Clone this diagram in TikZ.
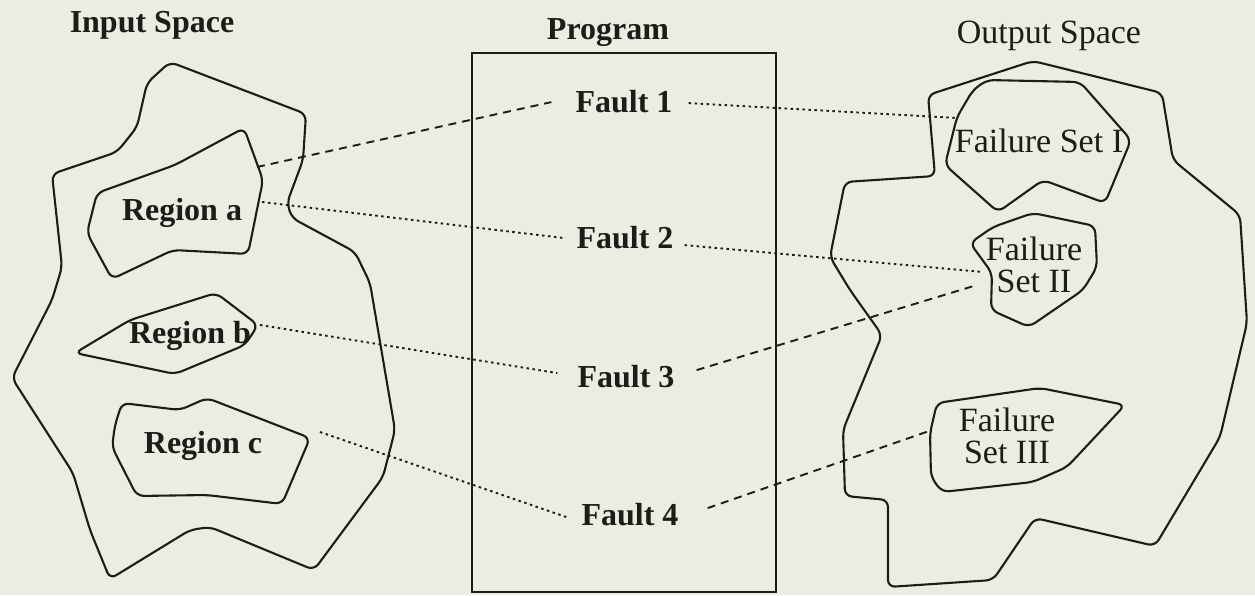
\documentclass[tikz,border=0pt]{standalone}
\usepackage{fontspec}
\setmainfont{Liberation Serif}
\definecolor{ink}{RGB}{30,28,25}
\definecolor{paper}{RGB}{237,236,226}
\begin{document}
\begin{tikzpicture}[x=1pt,y=-1pt,
  blob/.style={draw=ink, line width=2.1pt, rounded corners=7pt},
  boldlbl/.style={font=\fontsize{32}{34}\selectfont\bfseries, text=ink, inner sep=0pt},
  reglbl/.style={font=\fontsize{34}{32}\selectfont, text=ink, inner sep=0pt, align=center},
  dotline/.style={draw=ink, line width=1.9pt, dash pattern=on 2.5pt off 3.5pt},
  dashline/.style={draw=ink, line width=1.9pt, dash pattern=on 8pt off 6pt}]
\useasboundingbox (0,0) rectangle (1255,595);
\fill[paper] (0,0) rectangle (1255,595);

% program box
\node[draw=ink, line width=2.1pt, minimum width=304pt, minimum height=539pt, inner sep=0pt] (progbox) at (624,322.5) {};

% input space
\draw[blob] (52,174) -- (117,152) -- (137,127) -- (147,83) -- (170,62) -- (306,114) -- (303,160) -- (287,203) -- (292,218) -- (355,252) -- (370,283) -- (395,430) -- (383,477) -- (314,570) -- (210,527) -- (190,530) -- (110,579) -- (90,530) -- (73,473) -- (12,378) -- (52,300) -- (62,267) -- cycle;
\draw[blob] (97,193) -- (175,165) -- (244,128) -- (263,180) -- (248,254) -- (173,250) -- (112,279) -- (87,233) -- cycle;
\draw[blob] (75,353) -- (130,320) -- (216,293) -- (258,325) -- (245,345) -- (175,374) -- cycle;
\draw[blob] (122,403) -- (180,410) -- (207,398) -- (310,438) -- (282,504) -- (207,495) -- (137,496) -- (112,447) -- (115,425) -- cycle;

% output space
\draw[blob] (1033,61) -- (1162,93) -- (1173,160) -- (1240,215) -- (1247,323) -- (1220,437) -- (1155,546) -- (1035,518) -- (993,580) -- (888,587) -- (888,500) -- (845,496) -- (843,430) -- (882,335) -- (850,290) -- (830,257) -- (845,182) -- (935,176) -- (928,95) -- cycle;
\draw[blob] (987,80) -- (1080,82) -- (1131,140) -- (1105,203) -- (1043,180) -- (998,212) -- (945,165) -- (957,117) -- (973,90) -- cycle;
\draw[blob] (1033,213) -- (1095,226) -- (1097,267) -- (1083,290) -- (1029,327) -- (991,310) -- (992,273) -- (970,243) -- (993,227) -- cycle;
\draw[blob] (937,403) -- (1040,388) -- (1125,405) -- (1067,467) -- (1033,482) -- (942,492) -- (931,477) -- (930,433) -- cycle;

% titles
\node[boldlbl, anchor=base] (intitle) at (152,32) {Input Space};
\node[boldlbl, anchor=base] (progtitle) at (608,39) {Program};
\node[reglbl, anchor=base] (outtitle) at (1049,43) {Output Space};

% labels
\node[boldlbl, anchor=base] (ra) at (182,220) {Region a};
\node[boldlbl, anchor=base] (rb) at (190,343) {Region b};
\node[boldlbl, anchor=base] (rc) at (203,453) {Region c};
\node[boldlbl, anchor=base] (f1) at (624,112) {Fault 1};
\node[boldlbl, anchor=base] (f2) at (625,248) {Fault 2};
\node[boldlbl, anchor=base] (f3) at (626,387) {Fault 3};
\node[boldlbl, anchor=base] (f4) at (630,525) {Fault 4};
\node[reglbl, anchor=base] (fs1) at (1039,152) {Failure Set I};
\node[reglbl] (fs2) at (1034,265) {Failure\\Set II};
\node[reglbl] (fs3) at (1007,436) {Failure\\Set III};

% connector ends on outlines
\coordinate (ra1) at (257,167);
\coordinate (ra2) at (262,202);
\coordinate (rbe) at (260,325);
\coordinate (rce) at (320,432);
\coordinate (fs1e) at (957,118);
\coordinate (fs2e) at (983,272);
\coordinate (fs2f) at (977,285);
\coordinate (fs3e) at (932,430);

% connectors
\draw[dashline] (ra1) -- ([shift={(-24,1)}]f1.west);
\draw[dotline] (ra2) -- ([shift={(-12,1)}]f2.west);
\draw[dotline] ([shift={(16,2)}]f1.east) -- (fs1e);
\draw[dotline] ([shift={(11,8)}]f2.east) -- (fs2e);
\draw[dotline] (rbe) -- ([shift={(-20,-3)}]f3.west);
\draw[dashline] ([shift={(22,-6)}]f3.east) -- (fs2f);
\draw[dotline] (rce) -- ([shift={(-15,3)}]f4.west);
\draw[dashline] ([shift={(29,-6)}]f4.east) -- (fs3e);
\end{tikzpicture}
\end{document}
